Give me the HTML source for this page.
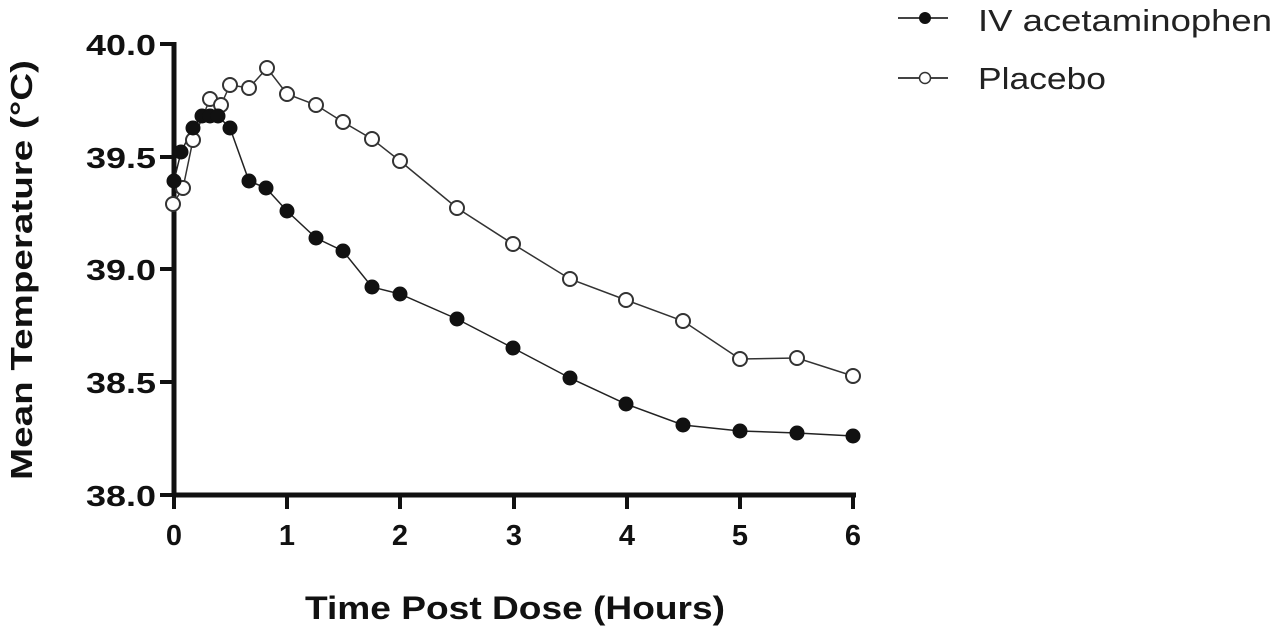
<!DOCTYPE html>
<html><head><style>body{margin:0;background:#fff}svg{display:block}</style></head><body>
<svg width="1274" height="626" xmlns="http://www.w3.org/2000/svg" font-family="Liberation Sans, sans-serif">
<g stroke="#111" stroke-width="5" fill="none">
<line x1="174" y1="42" x2="174" y2="497"/>
<line x1="172" y1="495" x2="856" y2="495"/>
<g stroke-width="4">
<line x1="160" y1="44" x2="174" y2="44"/><line x1="160" y1="157" x2="174" y2="157"/><line x1="160" y1="269" x2="174" y2="269"/><line x1="160" y1="382" x2="174" y2="382"/><line x1="160" y1="495" x2="174" y2="495"/>
<line x1="174" y1="495" x2="174" y2="509"/><line x1="287" y1="495" x2="287" y2="509"/><line x1="400" y1="495" x2="400" y2="509"/><line x1="514" y1="495" x2="514" y2="509"/><line x1="627" y1="495" x2="627" y2="509"/><line x1="740" y1="495" x2="740" y2="509"/><line x1="853" y1="495" x2="853" y2="509"/>
</g></g>
<g font-size="29" font-weight="bold" fill="#111" text-anchor="end">
<text x="156" y="55" textLength="70" lengthAdjust="spacingAndGlyphs">40.0</text><text x="156" y="168" textLength="70" lengthAdjust="spacingAndGlyphs">39.5</text><text x="156" y="280" textLength="70" lengthAdjust="spacingAndGlyphs">39.0</text><text x="156" y="393" textLength="70" lengthAdjust="spacingAndGlyphs">38.5</text><text x="156" y="506" textLength="70" lengthAdjust="spacingAndGlyphs">38.0</text>
</g>
<g font-size="29" font-weight="bold" fill="#111" text-anchor="middle">
<text x="174" y="545">0</text><text x="287" y="545">1</text><text x="400" y="545">2</text><text x="514" y="545">3</text><text x="627" y="545">4</text><text x="740" y="545">5</text><text x="853" y="545">6</text>
</g>
<text x="515" y="619" font-size="32" font-weight="bold" text-anchor="middle" fill="#111" textLength="420" lengthAdjust="spacingAndGlyphs">Time Post Dose (Hours)</text>
<text transform="translate(32,270) rotate(-90)" font-size="31" font-weight="bold" text-anchor="middle" fill="#111" textLength="420" lengthAdjust="spacingAndGlyphs">Mean Temperature (°C)</text>
<polyline fill="none" stroke="#333" stroke-width="1.5" points="173,204 183,188 193,140 210,99 221,105 230,85 249,88 267,68 287,94 316,105 343,122 372,139 400,161 457,208 513,244 570,279 626,300 683,321 740,359 797,358 853,376"/>
<polyline fill="none" stroke="#222" stroke-width="1.5" points="174,181 181,152 193,128 202,116 210,116 218,116 230,128 249,181 266,188 287,211 316,238 343,251 372,287 400,294 457,319 513,348 570,378 626,404 683,425 740,431 797,433 853,436"/>
<g fill="#fff" stroke="#333" stroke-width="2">
<circle cx="173" cy="204" r="7"/><circle cx="183" cy="188" r="7"/><circle cx="193" cy="140" r="7"/><circle cx="210" cy="99" r="7"/><circle cx="221" cy="105" r="7"/><circle cx="230" cy="85" r="7"/><circle cx="249" cy="88" r="7"/><circle cx="267" cy="68" r="7"/><circle cx="287" cy="94" r="7"/><circle cx="316" cy="105" r="7"/><circle cx="343" cy="122" r="7"/><circle cx="372" cy="139" r="7"/><circle cx="400" cy="161" r="7"/><circle cx="457" cy="208" r="7"/><circle cx="513" cy="244" r="7"/><circle cx="570" cy="279" r="7"/><circle cx="626" cy="300" r="7"/><circle cx="683" cy="321" r="7"/><circle cx="740" cy="359" r="7"/><circle cx="797" cy="358" r="7"/><circle cx="853" cy="376" r="7"/>
</g>
<g fill="#111">
<circle cx="174" cy="181" r="7.5"/><circle cx="181" cy="152" r="7.5"/><circle cx="193" cy="128" r="7.5"/><circle cx="202" cy="116" r="7.5"/><circle cx="210" cy="116" r="7.5"/><circle cx="218" cy="116" r="7.5"/><circle cx="230" cy="128" r="7.5"/><circle cx="249" cy="181" r="7.5"/><circle cx="266" cy="188" r="7.5"/><circle cx="287" cy="211" r="7.5"/><circle cx="316" cy="238" r="7.5"/><circle cx="343" cy="251" r="7.5"/><circle cx="372" cy="287" r="7.5"/><circle cx="400" cy="294" r="7.5"/><circle cx="457" cy="319" r="7.5"/><circle cx="513" cy="348" r="7.5"/><circle cx="570" cy="378" r="7.5"/><circle cx="626" cy="404" r="7.5"/><circle cx="683" cy="425" r="7.5"/><circle cx="740" cy="431" r="7.5"/><circle cx="797" cy="433" r="7.5"/><circle cx="853" cy="436" r="7.5"/>
</g>
<line x1="898" y1="18" x2="948" y2="18" stroke="#444" stroke-width="2"/>
<circle cx="925" cy="18" r="6" fill="#111"/>
<line x1="898" y1="78" x2="948" y2="78" stroke="#444" stroke-width="2"/>
<circle cx="925" cy="78" r="5.5" fill="#fff" stroke="#333" stroke-width="1.5"/>
<g font-size="31" fill="#222">
<text x="978" y="31" textLength="294" lengthAdjust="spacingAndGlyphs">IV acetaminophen</text>
<text x="978" y="89" textLength="128" lengthAdjust="spacingAndGlyphs">Placebo</text>
</g>
</svg>
</body></html>
